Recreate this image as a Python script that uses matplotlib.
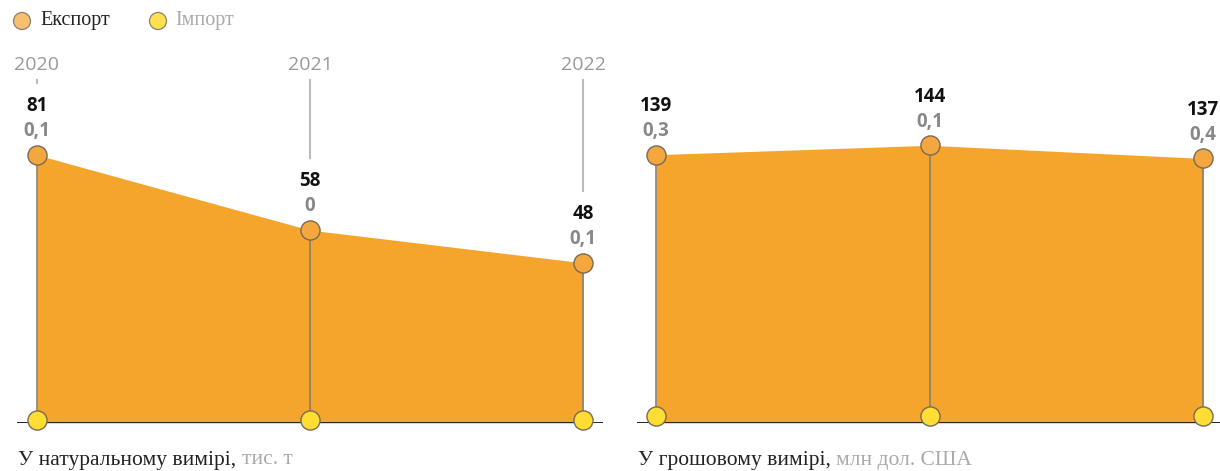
import matplotlib
matplotlib.use('Agg')
import matplotlib.pyplot as plt

years = ['2020', '2021', '2022']
export_volume = [81, 58, 48]
import_volume = ['0,1', '0', '0,1']
export_value = [139, 144, 137]
import_value = ['0,3', '0,1', '0,4']

ORANGE = '#F5A42C'
DOT_ORANGE = '#F4A63F'
DOT_YELLOW = '#FFDD33'
EDGE = '#7a6a55'

W, H = 1220, 471
fig = plt.figure(figsize=(W / 100, H / 100), dpi=100)


def px_axes(x0, x1, y_top, y_bottom):
    return fig.add_axes([x0 / W, 1 - y_bottom / H, (x1 - x0) / W, (y_bottom - y_top) / H])


def panel(ax, values, imports, xlim, ylim, show_years):
    x = list(range(len(values)))
    ax.set_xlim(xlim)
    ax.set_ylim(ylim)
    ax.axis('off')
    ax.fill_between(x, ylim[0], values, color=ORANGE, lw=0, zorder=1)
    for xi, v in zip(x, values):
        ax.plot([xi, xi], [0, v], color='#8a8070', lw=1.2, zorder=2)
    ax.axhline(ylim[0], color='#222222', lw=1.4, zorder=2)
    ax.scatter(x, values, s=190, color=DOT_ORANGE, edgecolor=EDGE, lw=1.0, zorder=4, clip_on=False)
    ax.scatter(x, [0] * len(x), s=190, color=DOT_YELLOW, edgecolor=EDGE, lw=1.0, zorder=4, clip_on=False)
    for xi, v, imp in zip(x, values, imports):
        ax.annotate(str(v), (xi, v), xytext=(0, 35), textcoords='offset points',
                    ha='center', va='center', fontsize=13.5, fontweight='bold',
                    color='#111111', family='Open Sans', annotation_clip=False)
        ax.annotate(imp, (xi, v), xytext=(0, 17), textcoords='offset points',
                    ha='center', va='center', fontsize=13.5, fontweight='bold',
                    color='#888888', family='Open Sans', annotation_clip=False)
    if show_years:
        for xi, v, yr in zip(x, values, years):
            ax.annotate(yr, (xi, 1), xycoords=('data', 'axes fraction'),
                        xytext=(0, 0), textcoords='offset points',
                        ha='center', va='center', fontsize=14,
                        color='#999999', family='Open Sans', annotation_clip=False)
            # grey leader from the year label down to the value labels
            top = ax.transAxes.transform((0, 1))[1] - 15
            bottom = ax.transData.transform((xi, v))[1] + 72
            if top > bottom:
                inv = ax.transData.inverted()
                y_top = inv.transform((0, top))[1]
                y_bot = inv.transform((0, bottom))[1]
                ax.plot([xi, xi], [y_bot, y_top], color='#bbbbbb', lw=1.5, clip_on=False)


ax1 = px_axes(17, 603, 65, 423)
panel(ax1, export_volume, import_volume, (-0.073, 2.073), (-1.0, 108.5), True)

ax2 = px_axes(637, 1220, 65, 423)
panel(ax2, export_value, import_value, (-0.07, 2.062), (-3.7, 186.7), False)

# legend
fig.text(40 / W, 1 - 21 / H, 'Експорт', fontsize=14.5, color='#222222',
         family='Liberation Serif', va='center')
fig.text(175 / W, 1 - 21 / H, 'Імпорт', fontsize=14.5, color='#aaaaaa',
         family='Liberation Serif', va='center')
lax = fig.add_axes([0, 0, 1, 1], zorder=-1)
lax.set_xlim(0, W)
lax.set_ylim(H, 0)
lax.axis('off')
lax.scatter([22, 158], [21, 21], s=150, color=['#F9BE6E', '#FFE14D'],
            edgecolor='#8a8070', lw=0.9)

# panel titles
for x0, main, unit in [(18, 'У натуральному вимірі, ', 'тис. т'),
                       (638, 'У грошовому вимірі, ', 'млн дол. США')]:
    t = fig.text(x0 / W, 1 - 460 / H, main, fontsize=15.5, color='#222222',
                 family='Liberation Serif', va='center')
    fig.canvas.draw()
    bb = t.get_window_extent()
    fig.text(bb.x1 / W, 1 - 460 / H, unit, fontsize=15.5, color='#aaaaaa',
             family='Liberation Serif', va='center')

fig.savefig('out.png', dpi=100)
